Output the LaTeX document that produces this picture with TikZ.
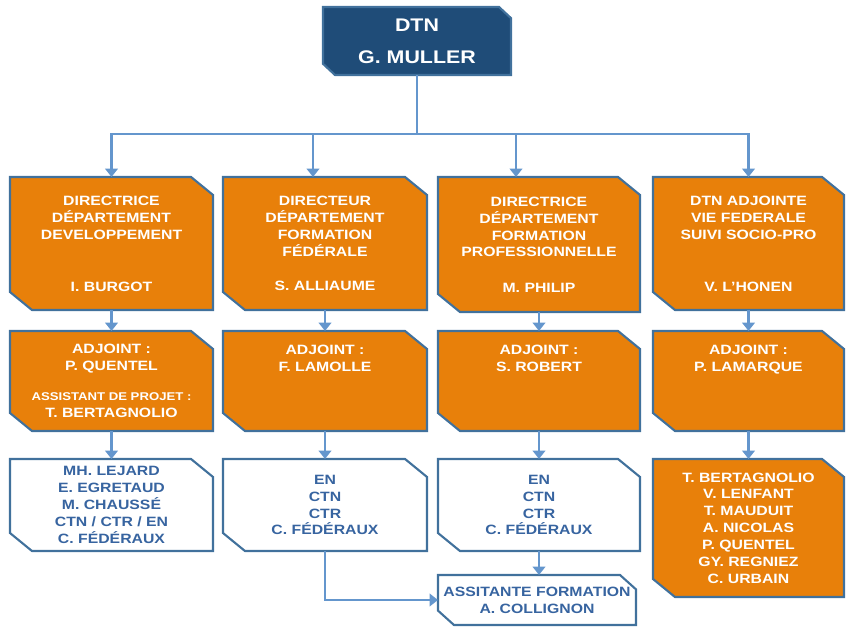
\documentclass[tikz,border=0pt]{standalone}
\usepackage{fontspec}
\setmainfont{Liberation Sans}[FakeStretch=1.17]
\usepackage{tikz}
\usetikzlibrary{arrows.meta,positioning,calc}
\definecolor{navy}{RGB}{31,76,120}
\definecolor{edge}{RGB}{65,113,156}
\definecolor{wire}{RGB}{100,150,205}
\definecolor{orgfill}{RGB}{232,128,10}
\definecolor{inkblue}{RGB}{55,100,160}
\newcommand{\smtxt}{\fontsize{8}{11.5}\selectfont}

% rectangle with cut north east and south west corners
\makeatletter
\pgfkeys{/pgf/cut x/.initial=0.55cm, /pgf/cut y/.initial=0.45cm}
\pgfdeclareshape{cutbox}{%
  \inheritsavedanchors[from=rectangle]%
  \inheritanchorborder[from=rectangle]%
  \inheritanchor[from=rectangle]{center}%
  \inheritanchor[from=rectangle]{text}%
  \inheritanchor[from=rectangle]{base}%
  \inheritanchor[from=rectangle]{north}%
  \inheritanchor[from=rectangle]{south}%
  \inheritanchor[from=rectangle]{east}%
  \inheritanchor[from=rectangle]{west}%
  \inheritanchor[from=rectangle]{north east}%
  \inheritanchor[from=rectangle]{north west}%
  \inheritanchor[from=rectangle]{south east}%
  \inheritanchor[from=rectangle]{south west}%
  \backgroundpath{%
    \pgfmathsetlength\pgf@xc{\pgfkeysvalueof{/pgf/cut x}}%
    \pgfmathsetlength\pgf@yc{\pgfkeysvalueof{/pgf/cut y}}%
    \southwest \pgf@xa=\pgf@x \pgf@ya=\pgf@y
    \northeast \pgf@xb=\pgf@x \pgf@yb=\pgf@y
    \pgfpathmoveto{\pgfqpoint{\pgf@xa}{\pgf@yb}}%
    \pgfpathlineto{\pgfqpoint{\dimexpr\pgf@xb-\pgf@xc\relax}{\pgf@yb}}%
    \pgfpathlineto{\pgfqpoint{\pgf@xb}{\dimexpr\pgf@yb-\pgf@yc\relax}}%
    \pgfpathlineto{\pgfqpoint{\pgf@xb}{\pgf@ya}}%
    \pgfpathlineto{\pgfqpoint{\dimexpr\pgf@xa+\pgf@xc\relax}{\pgf@ya}}%
    \pgfpathlineto{\pgfqpoint{\pgf@xa}{\dimexpr\pgf@ya+\pgf@yc\relax}}%
    \pgfpathclose
  }%
}
\makeatother

\begin{document}
\begin{tikzpicture}[
    x=0.025cm, y=-0.025cm,
    box/.style={cutbox, draw=edge, line width=1.5pt, inner sep=0pt, outer sep=0pt,
                align=center, font=\bfseries\fontsize{9.6}{12}\selectfont},
    obox/.style={box, fill=orgfill, text=white},
    wbox/.style={box, fill=white, text=inkblue},
    topbox/.style={box, fill=navy, text=white, cut x=0.3cm, cut y=0.28cm,
                   font=\bfseries\fontsize{13}{15}\selectfont},
    lbl/.style={align=center, text=white, inner sep=0pt, font=\bfseries\fontsize{9.6}{12}\selectfont},
    wire/.style={draw=wire, line width=1.5pt},
    arr/.style={wire, -{Triangle[width=9pt,length=6pt]}}
  ]
    \useasboundingbox (0,0) rectangle (846,629);

    % direction
    \node[topbox, minimum width=4.7cm, minimum height=1.7cm] (dtn) at (417,41) {DTN\\[8pt]G. MULLER};

    % departements
    \node[obox, minimum width=5.075cm, minimum height=3.325cm] (dep1) at (111.5,243.5)
      {DIRECTRICE\\DÉPARTEMENT\\DEVELOPPEMENT\\[25pt]I. BURGOT};
    \node[obox, minimum width=5.1cm, minimum height=3.325cm] (dep2) at (325,243.5)
      {DIRECTEUR\\DÉPARTEMENT\\FORMATION\\FÉDÉRALE\\[12pt]S. ALLIAUME};
    \node[obox, minimum width=5.05cm, minimum height=3.375cm] (dep3) at (539,244.5)
      {DIRECTRICE\\DÉPARTEMENT\\FORMATION\\PROFESSIONNELLE\\[13pt]M. PHILIP};
    \node[obox, minimum width=4.775cm, minimum height=3.325cm] (dep4) at (748.5,243.5)
      {DTN ADJOINTE\\VIE FEDERALE\\SUIVI SOCIO-PRO\\[25pt]V. L'HONEN};

    % adjoints
    \node[obox, minimum width=5.075cm, minimum height=2.5cm] (adj1) at (111.5,381)
      {ADJOINT :\\P. QUENTEL\\[9.5pt]\smtxt ASSISTANT DE PROJET :\\T. BERTAGNOLIO};
    \node[obox, minimum width=5.1cm, minimum height=2.5cm] (adj2) at (325,381) {};
    \node[obox, minimum width=5.05cm, minimum height=2.5cm] (adj3) at (539,381) {};
    \node[obox, minimum width=4.775cm, minimum height=2.5cm] (adj4) at (748.5,381) {};
    \node[lbl, below=10pt of adj2.north] (adj2t) {ADJOINT :\\F. LAMOLLE};
    \node[lbl, below=10pt of adj3.north] (adj3t) {ADJOINT :\\S. ROBERT};
    \node[lbl, below=10pt of adj4.north] (adj4t) {ADJOINT :\\P. LAMARQUE};

    % equipes
    \node[wbox, minimum width=5.075cm, minimum height=2.3cm] (team1) at (111.5,505)
      {MH. LEJARD\\E. EGRETAUD\\M. CHAUSSÉ\\CTN / CTR / EN\\C. FÉDÉRAUX};
    \node[wbox, minimum width=5.1cm, minimum height=2.3cm] (team2) at (325,505)
      {EN\\CTN\\CTR\\C. FÉDÉRAUX};
    \node[wbox, minimum width=5.05cm, minimum height=2.3cm] (team3) at (539,505)
      {EN\\CTN\\CTR\\C. FÉDÉRAUX};
    \node[obox, minimum width=4.775cm, minimum height=3.45cm] (team4) at (748.5,528)
      {T. BERTAGNOLIO\\V. LENFANT\\T. MAUDUIT\\A. NICOLAS\\P. QUENTEL\\GY. REGNIEZ\\C. URBAIN};
    \node[wbox, cut x=0.4cm, cut y=0.36cm, minimum width=4.95cm, minimum height=1.25cm]
      (asst) at (537,600) {ASSITANTE FORMATION\\A. COLLIGNON};

    % liens
    \coordinate (bus) at (417,134);
    \draw[wire] (dtn.south) -- (bus);
    \draw[arr] (bus) -| (dep1.north);
    \draw[arr] (bus) -| ($(dep2.north)+(-12,0)$);
    \draw[arr] (bus) -| ($(dep3.north)+(-23,0)$);
    \draw[arr] (bus) -| (dep4.north);
    \foreach \i in {1,...,4} {
      \draw[arr] (dep\i.south) -- (adj\i.north);
      \draw[arr] (adj\i.south) -- (team\i.north);
    }
    \draw[arr] (team2.south) |- (asst.west);
    \draw[arr] (team3.south) -- (team3.south |- asst.north);
  \end{tikzpicture}
\end{document}
